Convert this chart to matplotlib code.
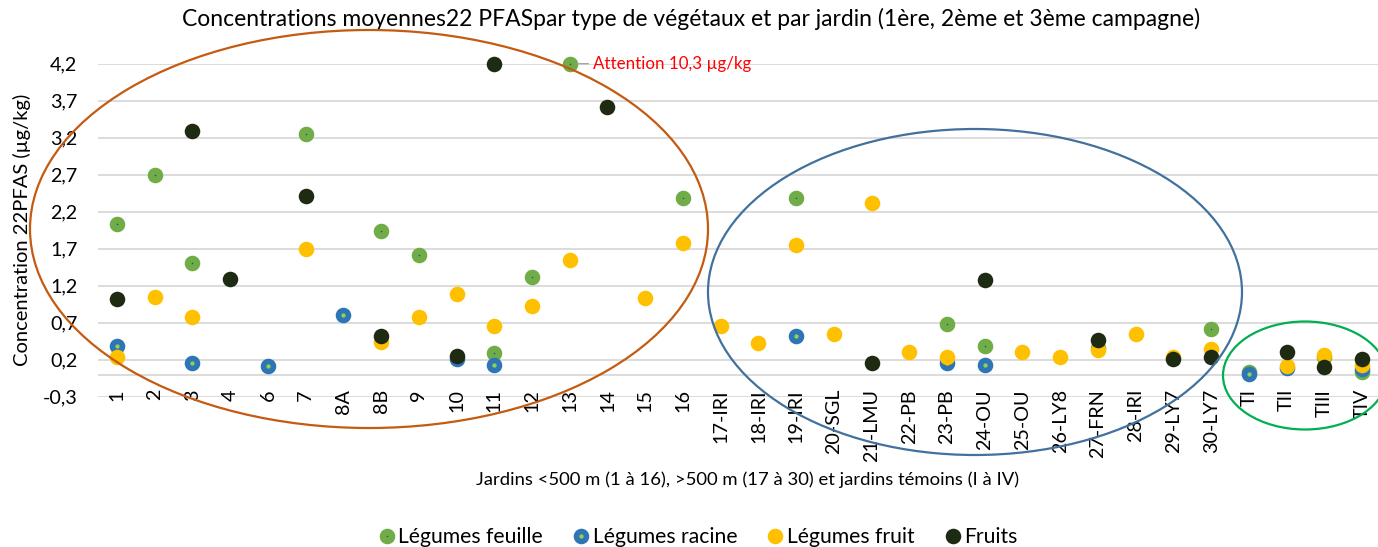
import numpy as np
import matplotlib
matplotlib.use("Agg")
import matplotlib.pyplot as plt
from matplotlib.patches import Ellipse

nan = np.nan
categories = ['1', '2', '3', '4', '6', '7', '8A', '8B', '9', '10', '11', '12', '13', '14', '15', '16',
              '17-IRI', '18-IRI', '19-IRI', '20-SGL', '21-LMU', '22-PB', '23-PB', '24-OU', '25-OU',
              '26-LY8', '27-FRN', '28-IRI', '29-LY7', '30-LY7', 'TI', 'TII', 'TIII', 'TIV']

legumes_feuille = [2.04, 2.70, 1.51, nan, nan, 3.25, nan, 1.94, 1.61, nan, 0.29, 1.32, 4.2, nan, nan, 2.38,
                   nan, nan, 2.38, nan, nan, nan, 0.68, 0.39, nan, nan, 0.36, nan, nan, 0.62,
                   0.04, nan, 0.23, 0.04]
legumes_racine = [0.38, nan, 0.15, nan, 0.12, nan, 0.81, nan, nan, 0.21, 0.13, nan, nan, nan, nan, nan,
                  nan, nan, 0.52, nan, nan, nan, 0.16, 0.13, nan, nan, nan, nan, nan, nan,
                  0.01, 0.09, nan, 0.07]
legumes_fruit = [0.24, 1.05, 0.78, nan, nan, 1.70, nan, 0.44, 0.78, 1.09, 0.655, 0.93, 1.55, nan, 1.04, 1.78,
                 0.655, 0.43, 1.745, 0.55, 2.32, 0.31, 0.23, nan, 0.30, 0.23, 0.33, 0.55, 0.24, 0.34,
                 nan, 0.12, 0.26, 0.13]
fruits = [1.015, nan, 3.29, 1.29, nan, 2.41, nan, 0.52, nan, 0.245, 4.2, nan, nan, 3.62, nan, nan,
          nan, nan, nan, nan, 0.155, nan, nan, 1.28, nan, nan, 0.47, nan, 0.205, 0.23,
          nan, 0.31, 0.105, 0.205]

yticks = [-0.3, 0.2, 0.7, 1.2, 1.7, 2.2, 2.7, 3.2, 3.7, 4.2]
ytick_labels = ['-0,3', '0,2', '0,7', '1,2', '1,7', '2,2', '2,7', '3,2', '3,7', '4,2']

FONT = ['Lato', 'DejaVu Sans']
plt.rcParams['font.family'] = FONT

W, H = 1378, 547
fig = plt.figure(figsize=(W / 100, H / 100), dpi=100)
ax = fig.add_axes([98.1 / W, 1 - 396.7 / H, 1282.8 / W, (396.7 - 63.7) / H])

x = np.arange(len(categories))
ax.plot(x, legumes_feuille, linestyle='none', marker='o', ms=6.3, mew=4.9,
        mfc='#2F4A9A', mec='#70AD47', clip_on=False, zorder=3, label='Légumes feuille')
ax.plot(x, legumes_racine, linestyle='none', marker='o', ms=7.2, mew=4.0,
        mfc='#92D050', mec='#2E75B6', clip_on=False, zorder=4, label='Légumes racine')
ax.plot(x, legumes_fruit, linestyle='none', marker='o', ms=11.2, mew=0,
        mfc='#FFC000', clip_on=False, zorder=5, label='Légumes fruit')
ax.plot(x, fruits, linestyle='none', marker='o', ms=11.2, mew=0,
        mfc='#1E2A12', clip_on=False, zorder=6, label='Fruits')

ax.set_xlim(-0.5, len(categories) - 0.5)
ax.set_ylim(-0.3, 4.2)
ax.set_yticks(yticks, ytick_labels)
ax.set_xticks(x, categories, rotation=90)
ax.tick_params(axis='both', length=0, labelsize=14.2, colors='#000000')
ax.tick_params(axis='x', pad=-5.5)
ax.tick_params(axis='y', pad=15)
for lab in ax.get_xticklabels():
    lab.set_va('top')
for y in yticks:
    ax.axhline(y, color='#D9D9D9', lw=1.3, zorder=1)
ax.axhline(0, color='#D9D9D9', lw=1.3, zorder=1)
for s in ax.spines.values():
    s.set_visible(False)

ax.set_ylabel('Concentration 22PFAS (µg/kg)', fontsize=14.5)
ax.yaxis.set_label_coords(-67 / 1282.8, 0.5)

fig.text(691 / W, 1 - 19 / H, 'Concentrations moyennes22 PFASpar type de végétaux et par jardin (1ère, 2ème et 3ème campagne)',
         ha='center', va='center', fontsize=16.5)
fig.text(748 / W, 1 - 480 / H, 'Jardins <500 m (1 à 16), >500 m (17 à 30) et jardins témoins (I à IV)',
         ha='center', va='center', fontsize=13.3)

ax.annotate('Attention 10,3 µg/kg', xy=(12, 4.2), xytext=(16.5, 0), textcoords='offset points',
            ha='left', va='center', color='#FF0000', fontsize=12.2,
            arrowprops=dict(arrowstyle='-', color='#A6A6A6', lw=1, shrinkA=1, shrinkB=5.5))

def add_ellipse(cx, cy, rx, ry, color):
    e = Ellipse((cx / W, 1 - cy / H), 2 * rx / W, 2 * ry / H, transform=fig.transFigure,
                fill=False, edgecolor=color, lw=1.6, zorder=10)
    fig.add_artist(e)

add_ellipse(369, 229, 339, 199, '#C55A11')
add_ellipse(975, 292, 267, 163, '#41719C')
add_ellipse(1305, 375.5, 82, 54, '#00B050')

leg = fig.legend(loc='center', bbox_to_anchor=(697 / W, 1 - 537 / H), ncol=4, frameon=False,
                 fontsize=15.2, handletextpad=0.05, columnspacing=1.3, handlelength=1.0,
                 borderaxespad=0)

fig.savefig('out.png', dpi=100)
